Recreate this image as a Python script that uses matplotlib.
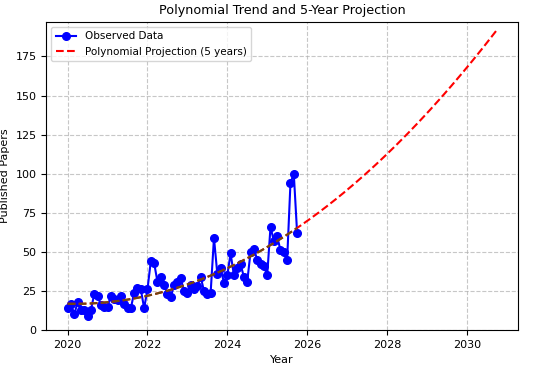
import numpy as np
import matplotlib
matplotlib.use("Agg")
import matplotlib.pyplot as plt

# monthly observations, Jan 2020 .. Oct 2025
start_year = 2020
papers = [14, 17, 10, 18, 13, 13, 9, 13, 23, 22, 16, 15,
          15, 22, 20, 19, 22, 17, 14, 14, 24, 27, 26, 14,
          26, 44, 43, 31, 34, 29, 23, 21, 29, 31, 33, 25,
          24, 29, 26, 28, 34, 25, 23, 24, 59, 36, 40, 30,
          35, 49, 35, 40, 42, 34, 31, 50, 52, 45, 42, 41,
          35, 66, 57, 60, 51, 50, 45, 94, 100, 62]
proj_years = 5
poly_degree = 2

years = start_year + np.arange(len(papers)) / 12.0
coefs = np.polyfit(years - start_year, papers, poly_degree)
x_all = np.linspace(years[0], years[-1] + proj_years, 200)
y_all = np.polyval(coefs, x_all - start_year)
x_obs = np.linspace(years[0], years[-1], 100)
y_obs = np.polyval(coefs, x_obs - start_year)

fig, ax = plt.subplots(figsize=(5.5, 3.68), dpi=100)
fig.subplots_adjust(left=0.084, right=0.942, top=0.94, bottom=0.103)

ax.plot(years, papers, "o-", color="blue", markersize=5.5, linewidth=1.5, label="Observed Data")
ax.plot(x_all, y_all, "--", color="red", linewidth=1.5, label="Polynomial Projection (5 years)")
ax.plot(x_obs, y_obs, "--", color="#6b4a12", linewidth=1.5)

ax.set_ylim(0, 197)
ax.set_title("Polynomial Trend and 5-Year Projection", fontsize=9.2)
ax.set_xlabel("Year", fontsize=8)
ax.set_ylabel("Published Papers", fontsize=8)
ax.tick_params(labelsize=8)
ax.grid(True, linestyle="--", alpha=0.7)
ax.legend(fontsize=7.5, loc="upper left")

fig.savefig("out.png", dpi=100)
